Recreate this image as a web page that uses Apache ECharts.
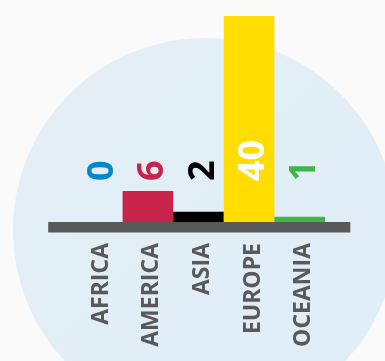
<!DOCTYPE html>
<html>
<head>
<meta charset="utf-8">
<style>
  html, body { margin: 0; padding: 0; background: #fafafa; }
  #chart { width: 385px; height: 361px; }
</style>
<script src="https://cdn.jsdelivr.net/npm/echarts@6/dist/echarts.min.js"></script>
</head>
<body>
<div id="chart"></div>
<script>
// Continents and counts
const categories = ['AFRICA', 'AMERICA', 'ASIA', 'EUROPE', 'OCEANIA'];
const counts = [0, 6, 2, 40, 1];
const barColors = ['#0088cf', '#c8234a', '#000000', '#ffdd00', '#3fb54a'];
const labelColors = ['#0088cf', '#c8234a', '#000000', '#ffffff', '#3fb54a'];

const chart = echarts.init(document.getElementById('chart'));

const seriesData = counts.map((v, i) => ({
  value: v,
  itemStyle: { color: barColors[i] },
  label: { color: labelColors[i] }
}));

chart.setOption({
  backgroundColor: '#fafafa',
  animation: false,
  grid: { left: 72, right: 60, top: 16, bottom: 139 },
  xAxis: {
    type: 'category',
    data: categories,
    axisLine: { show: false },
    axisTick: { show: false },
    axisLabel: {
      rotate: 90,
      margin: 21,
      color: '#58595b',
      fontFamily: 'Open Sans',
      fontWeight: 'bold',
      fontSize: 23,
      verticalAlign: 'top',
      lineHeight: 8,
      interval: 0
    }
  },
  yAxis: {
    type: 'value',
    min: 0,
    max: 40,
    show: false,
    splitLine: { show: false }
  },
  series: [{
    type: 'bar',
    data: seriesData,
    barCategoryGap: '0%',
    z: 3,
    label: {
      show: true,
      position: 'insideBottom',
      distance: 41,
      rotate: 90,
      align: 'left',
      verticalAlign: 'middle',
      offset: [0, 5],
      fontFamily: 'Open Sans',
      fontWeight: 'bold',
      fontSize: 36
    }
  }]
});

// Backdrop disc and the thick base line under the bars
const x0 = chart.convertToPixel({ xAxisIndex: 0 }, categories[0]);
const x1 = chart.convertToPixel({ xAxisIndex: 0 }, categories[1]);
const xN = chart.convertToPixel({ xAxisIndex: 0 }, categories[categories.length - 1]);
const band = x1 - x0;
const yZero = chart.convertToPixel({ yAxisIndex: 0 }, 0);

chart.setOption({
  graphic: [
    {
      type: 'circle',
      z: -10,
      silent: true,
      shape: { cx: 205, cy: 230, r: 192 },
      style: {
        fill: new echarts.graphic.LinearGradient(0, 0, 1, 1, [
          { offset: 0, color: '#e4eff7' },
          { offset: 1, color: '#e0edf6' }
        ])
      }
    },
    {
      type: 'rect',
      z: 10,
      silent: true,
      shape: { x: x0 - band * 0.97, y: yZero, width: (xN - x0) + band * 1.97, height: 10.5 },
      style: { fill: '#58595b' }
    }
  ]
});
</script>
</body>
</html>
